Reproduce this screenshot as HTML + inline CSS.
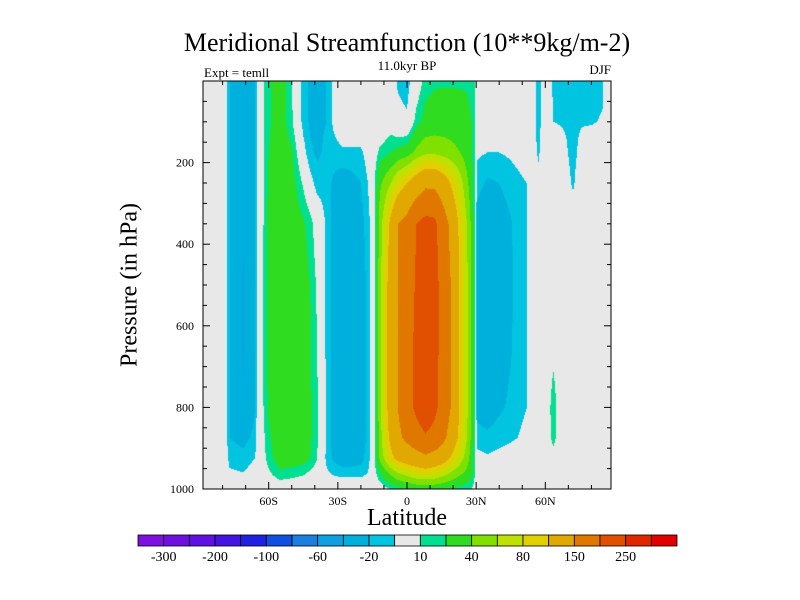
<!DOCTYPE html>
<html><head><meta charset="utf-8">
<style>
body{margin:0;background:#fff;}
#wrap{position:relative;width:800px;height:600px;overflow:hidden;font-family:"Liberation Serif",serif;color:#000;}
.t{position:absolute;white-space:nowrap;}
</style></head>
<body>
<div id="wrap">
<div class="t" style="left:0;width:814px;text-align:center;top:28px;font-size:26px;">Meridional Streamfunction (10**9kg/m-2)</div>
<div class="t" style="left:0;width:814px;text-align:center;top:58px;font-size:13px;">11.0kyr BP</div>
<div class="t" style="left:204px;top:65px;font-size:13px;">Expt = temll</div>
<div class="t" style="left:560px;width:51px;text-align:right;top:62px;font-size:13px;">DJF</div>
<div class="t" style="left:0;width:814px;text-align:center;top:505px;font-size:24px;">Latitude</div>
<div class="t" style="left:130px;top:285px;font-size:24px;transform:translate(-50%,-50%) rotate(-90deg);">Pressure (in hPa)</div>
<canvas id="cv" width="408" height="408" style="position:absolute;left:203px;top:81px;"></canvas>
<svg id="ov" width="800" height="600" style="position:absolute;left:0;top:0;"></svg>
</div>
<script>
const levels=[-300,-250,-200,-150,-100,-80,-60,-40,-20,-10,10,20,40,60,80,100,150,200,250,300];
const levelLabels=["-300","-200","-100","-60","-20","10","40","80","150","250"];
const colors=["#7e10e0","#7010e0","#6010e0","#4414e0","#2020e0","#1050e0","#1a80e0","#10a0e0","#00b0dc","#00c4e0","#e8e8e8","#00e090","#30dc20","#80e000","#c0e000","#e0d000","#e0a800","#e07800","#e05000","#e02800","#e00000"];
const pressures=[0,100,175,250,350,500,650,800,875,925,960,1000];
const lats=[-90,-79,-77,-71,-66,-64.5,-63,-60,-55,-50,-45,-42,-39,-35,-32,-28,-24,-20,-17,-15,-14,-12,-10,-7,-4,0,4,8,12,16,20,23,26,28,29.5,30.5,35,40,45,48,52,53.5,57,60,63.5,67,72,76,80,85,86.5,90];
const field=[
[0,0,0,0,0,0,0,0,0,0,0,0],
[0,0,0,0,0,0,0,0,0,0,0,0],
[-20,-20,-20,-20,-20,-20,-20,-20,-20,-14,-8,0],
[-32,-32,-33,-35,-38,-42,-42,-38,-24,-16,-10,0],
[-20,-20,-20,-20,-20,-20,-20,-20,-17,-10,-4,0],
[0,0,0,0,0,0,0,0,0,0,0,0],
[5,5,5,5,5,6,6,6,4,3,0,0],
[18,18,20,22,25,26,25,22,18,15,8,0],
[28,28,30,30,32,33,33,32,30,28,18,0],
[11,12,22,26,30,32,32,32,30,28,15,0],
[-15,-14,-5,8,22,26,28,28,28,26,12,0],
[-22,-22,-18,-5,15,20,22,22,22,20,8,0],
[-22,-22,-22,-15,2,8,10,12,12,10,5,0],
[-20,-20,-18,-14,-12,-12,-12,-12,-12,-12,-8,0],
[-8,-8,-15,-22,-24,-25,-25,-25,-25,-22,-12,0],
[0,0,-12,-28,-32,-35,-35,-35,-33,-28,-14,0],
[0,0,-12,-25,-32,-36,-36,-36,-33,-28,-14,0],
[0,0,-12,-20,-25,-30,-30,-30,-30,-25,-14,0],
[0,0,-5,-10,-14,-16,-16,-16,-16,-14,-10,0],
[0,0,0,-2,-5,-5,-5,-5,-5,-5,-3,0],
[0,0,3,10,10,10,10,10,10,10,5,0],
[0,0,12,35,45,48,48,48,45,40,20,0],
[0,0,15,45,70,80,80,80,75,60,30,5],
[0,3,20,60,110,120,120,120,110,90,45,10],
[-12,-5,25,80,150,150,150,150,140,110,60,15],
[-15,-8,30,100,165,175,180,180,160,120,70,20],
[0,15,45,120,200,205,210,210,180,130,80,25],
[15,25,55,140,215,225,230,230,195,140,85,25],
[18,28,55,140,210,215,215,210,185,130,80,25],
[18,30,50,120,170,180,180,180,160,115,70,22],
[18,30,45,90,130,140,140,140,120,90,55,18],
[18,28,40,70,90,95,95,95,90,70,45,15],
[18,25,30,45,60,65,65,65,60,50,35,12],
[15,20,22,28,35,38,38,38,35,30,25,10],
[10,10,10,10,10,10,10,10,10,10,10,5],
[0,0,-8,-16,-26,-28,-28,-24,-16,-5,0,0],
[0,0,-10,-22,-30,-32,-30,-26,-18,-8,0,0],
[0,0,-10,-20,-26,-28,-26,-22,-15,-5,0,0],
[0,0,-8,-16,-21,-22,-21,-18,-12,-3,0,0],
[0,0,-5,-14,-16,-16,-16,-15,-10,0,0,0],
[0,0,0,-10,-10,-10,-10,-10,-5,0,0,0],
[0,0,0,0,0,0,0,0,0,0,0,0],
[-15,-15,-12,-6,0,0,0,0,0,0,0,0],
[0,0,0,0,0,0,0,0,0,0,0,0],
[-12,-10,-2,0,0,0,6,16,14,4,0,0],
[-15,-11,-5,0,0,0,0,0,0,0,0,0],
[-15,-12,-14,-12,-2,0,0,0,0,0,0,0],
[-14,-11,-5,0,0,0,0,0,0,0,0,0],
[-14,-11,-2,0,0,0,0,0,0,0,0,0],
[-12,-9,0,0,0,0,0,0,0,0,0,0],
[0,0,0,0,0,0,0,0,0,0,0,0],
[0,0,0,0,0,0,0,0,0,0,0,0]
];
const xTickVals=[-60,-30,0,30,60];
const xTickLabels=["60S","30S","0","30N","60N"];
const yTickVals=[200,400,600,800,1000];

const PX0=203,PX1=611,PY0=81,PY1=489,LAT0=-88.5,LAT1=88.5;
function xOf(lat){return PX0+(lat-LAT0)/(LAT1-LAT0)*(PX1-PX0);}
function yOf(p){return PY0+p/1000*(PY1-PY0);}
function seg(arr,v){let i=0;while(i<arr.length-2&&v>arr[i+1])i++;return i;}
function colorOf(v){let k=0;while(k<levels.length&&v>=levels[k])k++;
 if(v>-10&&v<10)return colors[10];return colors[k];}
function hexRGB(h){return [parseInt(h.substr(1,2),16),parseInt(h.substr(3,2),16),parseInt(h.substr(5,2),16)];}

const cv=document.getElementById('cv');const ctx=cv.getContext('2d');
const img=ctx.createImageData(408,408);
for(let py=0;py<408;py++){
 const p=(py+0.5)/408*1000;const j=seg(pressures,p);
 const tp=Math.max(0,Math.min(1,(p-pressures[j])/(pressures[j+1]-pressures[j])));
 for(let px=0;px<408;px++){
  const lat=LAT0+(px+0.5)/408*(LAT1-LAT0);const i=seg(lats,lat);
  const tl=Math.max(0,Math.min(1,(lat-lats[i])/(lats[i+1]-lats[i])));
  const v=(field[i][j]*(1-tl)+field[i+1][j]*tl)*(1-tp)+(field[i][j+1]*(1-tl)+field[i+1][j+1]*tl)*tp;
  const c=hexRGB(colorOf(v));const o=(py*408+px)*4;
  img.data[o]=c[0];img.data[o+1]=c[1];img.data[o+2]=c[2];img.data[o+3]=255;
 }
}
ctx.putImageData(img,0,0);

const NS='http://www.w3.org/2000/svg';const ov=document.getElementById('ov');
function mk(tag,attrs,txt){const e=document.createElementNS(NS,tag);for(const k in attrs)e.setAttribute(k,attrs[k]);if(txt!==undefined)e.textContent=txt;ov.appendChild(e);return e;}
let e=mk('rect',{x:PX0,y:PY0,width:PX1-PX0,height:PY1-PY0,fill:'none',stroke:'#000','stroke-width':1});


for(let lat=-80;lat<=80;lat+=10){
 const x=xOf(lat);const major=xTickVals.indexOf(lat)>=0;const L=major?7:4;
 e=mk('line',{x1:x,x2:x,y1:PY1,y2:PY1-L,stroke:'#000'});
 
 
 e=mk('line',{x1:x,x2:x,y1:PY0,y2:PY0+L,stroke:'#000'});
 
 
}
xTickVals.forEach((v,k)=>{
 e=mk('text',{x:xOf(v),y:PY1+16,'text-anchor':'middle','font-size':12,'font-family':'Liberation Serif, serif'},xTickLabels[k]);
 
 
});
for(let p=50;p<1000;p+=50){
 const y=yOf(p);const major=yTickVals.indexOf(p)>=0;const L=major?7:4;
 e=mk('line',{x1:PX0,x2:PX0+L,y1:y,y2:y,stroke:'#000'});
 
 
 e=mk('line',{x1:PX1,x2:PX1-L,y1:y,y2:y,stroke:'#000'});
 
 
}
yTickVals.forEach(v=>{
 e=mk('text',{x:PX0-9,y:yOf(v)+4,'text-anchor':'end','font-size':12,'font-family':'Liberation Serif, serif'},String(v));
 
 
});
const CB0=138,CB1=677,CBY=535,CBH=11;const bw=(CB1-CB0)/colors.length;
colors.forEach((c,k)=>{
 e=mk('rect',{x:CB0+k*bw,y:CBY,width:bw,height:CBH,fill:c,stroke:'#000','stroke-width':0.8});
 
 
});
levelLabels.forEach((t,k)=>{
 e=mk('text',{x:CB0+(2*k+1)*bw,y:CBY+CBH+15,'text-anchor':'middle','font-size':14,'font-family':'Liberation Serif, serif'},t);
 
 
});
</script>
</body></html>
